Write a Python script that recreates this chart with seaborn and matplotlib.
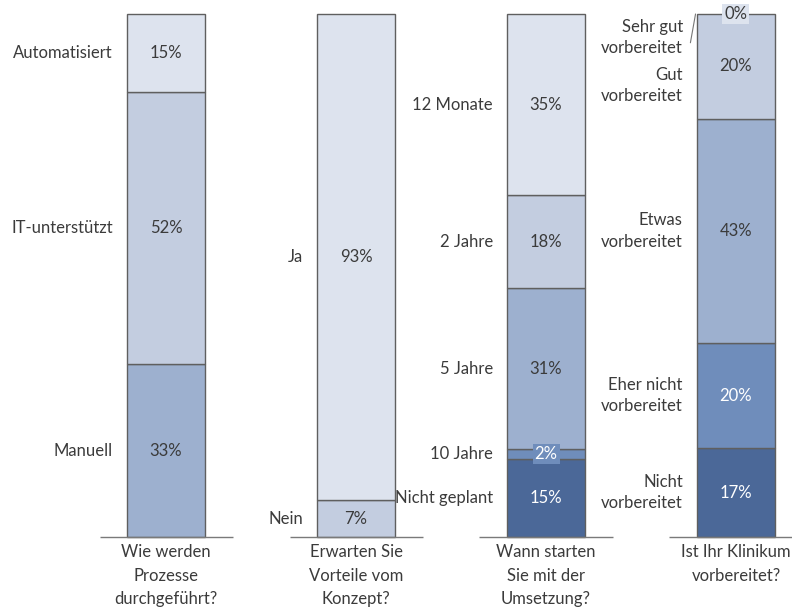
import matplotlib
matplotlib.use("Agg")
import matplotlib.pyplot as plt
import seaborn as sns
import pandas as pd

sns.set_theme(style="white")
plt.rcParams['font.family'] = ['Lato', 'DejaVu Sans']

questions = ["Wie werden\nProzesse\ndurchgeführt?",
             "Erwarten Sie\nVorteile vom\nKonzept?",
             "Wann starten\nSie mit der\nUmsetzung?",
             "Ist Ihr Klinikum\nvorbereitet?"]

q1_labels = ["Manuell", "IT-unterstützt", "Automatisiert"]
q1_values = [33, 52, 15]
q2_labels = ["Nein", "Ja"]
q2_values = [7, 93]
q3_labels = ["Nicht geplant", "10 Jahre", "5 Jahre", "2 Jahre", "12 Monate"]
q3_values = [15, 2, 31, 18, 35]
q4_labels = ["Nicht\nvorbereitet", "Eher nicht\nvorbereitet", "Etwas\nvorbereitet",
             "Gut\nvorbereitet", "Sehr gut\nvorbereitet"]
q4_values = [17, 20, 43, 20, 0]

C_DARK, C_MID2, C_MID, C_LIGHT2, C_LIGHT = "#4b6898", "#6f8dbb", "#9db0cf", "#c3cde0", "#dde3ee"
colors = [
    [C_MID, C_LIGHT2, C_LIGHT],
    [C_LIGHT2, C_LIGHT],
    [C_DARK, C_MID2, C_MID, C_LIGHT2, C_LIGHT],
    [C_DARK, C_MID2, C_MID, C_LIGHT2, C_LIGHT],
]
dark_set = {C_DARK, C_MID2}
TEXT = "#3b3b3b"

# label vertical offsets (styling) for crowded labels
label_offsets = {(3, 3): -3.7, (3, 4): -4.5}
pct_boxes = {(2, 1): C_MID2, (3, 4): C_LIGHT}

rows = []
for qi, (labs, vals) in enumerate([(q1_labels, q1_values), (q2_labels, q2_values),
                                     (q3_labels, q3_values), (q4_labels, q4_values)]):
    total = sum(vals)
    base = 0.0
    for si, (lab, v) in enumerate(zip(labs, vals)):
        h = v / total * 100
        rows.append(dict(q=questions[qi], qi=qi, si=si, label=lab, value=v,
                         height=h, bottom=base, color=colors[qi][si]))
        base += h
df = pd.DataFrame(rows)

fig = plt.figure(figsize=(7.92, 6.07), dpi=100)
ax = fig.add_axes([0, 0, 1, 1])

W = 0.41
for _, r in df.iterrows():
    if r["height"] > 0:
        sns.barplot(x=[r["q"]], y=[r["height"]], bottom=r["bottom"], order=questions,
                    color=r["color"], width=W, edgecolor="#5f5f5f", linewidth=1.0,
                    saturation=1, ax=ax)

FS = 12
for _, r in df.iterrows():
    qi, si = r["qi"], r["si"]
    yc = r["bottom"] + r["height"] / 2
    col = "white" if r["color"] in dark_set else TEXT
    if (qi, si) in pct_boxes:
        ax.text(qi, yc, f"{r['value']}%", ha="center", va="center", fontsize=FS,
                color=col, bbox=dict(boxstyle="square,pad=0.12", fc=pct_boxes[(qi, si)], ec="none"),
                zorder=5)
    else:
        ax.text(qi, yc, f"{r['value']}%", ha="center", va="center", fontsize=FS, color=col)
    ly = yc + label_offsets.get((qi, si), 0)
    ax.text(qi - W / 2 - 0.075, ly, r["label"], ha="right", va="center", fontsize=FS,
            color=TEXT, linespacing=1.4)

# slash connecting "Sehr gut" label to the top of the bar
ax.plot([3 - W / 2 - 0.035, 3 - W / 2 - 0.008], [94.5, 100.0], color="#777777", lw=0.8)

for qi, q in enumerate(questions):
    ax.hlines(0, qi - 0.35, qi + 0.35, color="#7a7a7a", lw=1.0)
    ax.text(qi, -1.3, q, ha="center", va="top", fontsize=FS, color=TEXT, linespacing=1.6)

ax.set_xlim(-166 / 190, (792 - 166) / 190)
ax.set_ylim(-70 / 5.23, 537 / 5.23)
ax.axis("off")
fig.savefig("out.png", dpi=100)
